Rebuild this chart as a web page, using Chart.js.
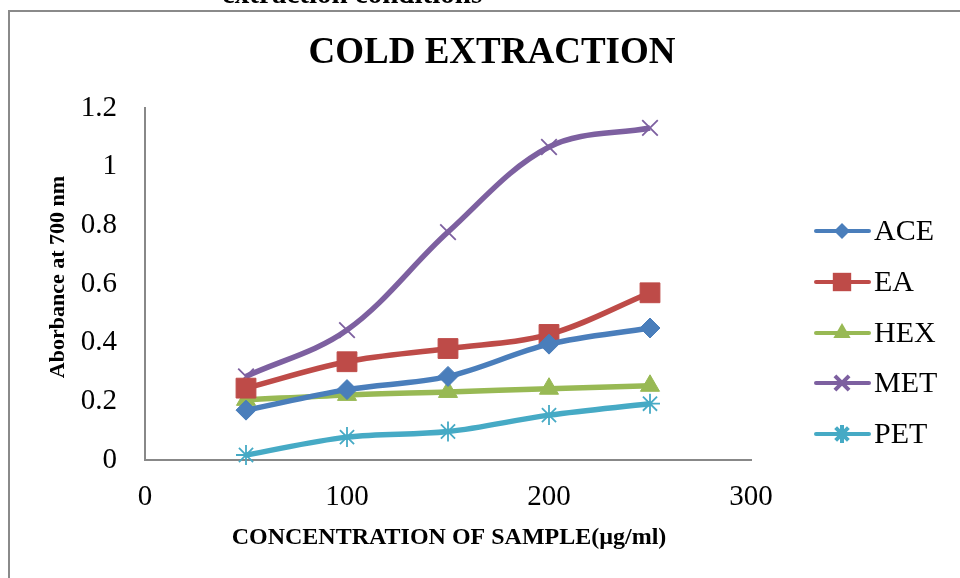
<!DOCTYPE html>
<html>
<head>
<meta charset="utf-8">
<script src="https://cdn.jsdelivr.net/npm/chart.js@4.4.1/dist/chart.umd.min.js"></script>
<style>
  html, body { margin: 0; padding: 0; background: #fff; }
  #wrap { width: 960px; height: 578px; }
</style>
</head>
<body>
<div id="wrap"><canvas id="coldChart" width="960" height="578"></canvas></div>
<script>
// data
const concentrations = [50, 100, 150, 200, 250];
const seriesNames = ['ACE', 'EA', 'HEX', 'MET', 'PET'];
const aceValues = [0.17, 0.24, 0.285, 0.395, 0.45];
const eaValues = [0.245, 0.335, 0.38, 0.428, 0.57];
const hexValues = [0.205, 0.222, 0.232, 0.243, 0.253];
const metValues = [0.285, 0.443, 0.777, 1.067, 1.132];
const petValues = [0.017, 0.078, 0.097, 0.153, 0.192];
const xTicks = [0, 100, 200, 300];
const yTicks = [0, 0.2, 0.4, 0.6, 0.8, 1, 1.2];

const serif = '"Liberation Serif", "Times New Roman", serif';

const styles = [
    { color: '#4A7EBB', point: 'rectRot', radius: 10, legendRadius: 8 },
    { color: '#BE4B48', point: 'rect', radius: 14, legendRadius: 13 },
    { color: '#98B954', point: 'triangle', radius: 11, legendRadius: 10 },
    { color: '#7D60A0', point: 'crossRot', radius: 11, legendRadius: 10 },
    { color: '#46AAC5', point: 'star', radius: 10, legendRadius: 9 }
];
const allValues = [aceValues, eaValues, hexValues, metValues, petValues];

function toPoints(values) {
    return concentrations.map((x, i) => ({ x: x, y: values[i] }));
}

function isOpenMarker(style) {
    return style === 'crossRot' || style === 'star';
}

const datasets = seriesNames.map((name, i) => ({
    label: name,
    data: toPoints(allValues[i]),
    showLine: true,
    tension: 0.35,
    borderColor: styles[i].color,
    backgroundColor: styles[i].color,
    borderWidth: 5.5,
    pointStyle: styles[i].point,
    pointRadius: styles[i].radius,
    pointHoverRadius: styles[i].radius,
    pointBorderWidth: isOpenMarker(styles[i].point) ? 1.8 : 1,
    clip: false
}));

// title, axis titles, border and legend drawn on top
const decorPlugin = {
    id: 'decor',
    beforeDraw(chart) {
        const ctx = chart.ctx;
        ctx.save();
        ctx.fillStyle = '#fff';
        ctx.fillRect(0, 0, chart.width, chart.height);
        ctx.restore();
    },
    afterDraw(chart) {
        const ctx = chart.ctx;
        ctx.save();

        // frame
        ctx.strokeStyle = '#8a8a8a';
        ctx.lineWidth = 2;
        ctx.beginPath();
        ctx.moveTo(9, 578);
        ctx.lineTo(9, 11);
        ctx.lineTo(960, 11);
        ctx.stroke();

        // cut-off caption above the chart
        ctx.fillStyle = '#000';
        ctx.textAlign = 'left';
        ctx.textBaseline = 'alphabetic';
        ctx.font = 'bold 29px ' + serif;
        ctx.fillText('extraction conditions', 222, 3);

        // chart title
        ctx.textAlign = 'center';
        ctx.textBaseline = 'middle';
        ctx.font = 'bold 37px ' + serif;
        ctx.fillText('COLD EXTRACTION', 492, 53);

        // x axis title
        ctx.font = 'bold 24px ' + serif;
        ctx.fillText('CONCENTRATION OF SAMPLE(\u00b5g/ml)', 449, 538, 438);

        // y axis title
        ctx.save();
        ctx.translate(58, 277);
        ctx.rotate(-Math.PI / 2);
        ctx.font = 'bold 22px ' + serif;
        ctx.fillText('Aborbance at 700 nm', 0, 0, 210);
        ctx.restore();

        // legend
        const legendY = [231, 282, 333, 383, 434];
        seriesNames.forEach((name, i) => {
            const y = legendY[i];
            ctx.strokeStyle = styles[i].color;
            ctx.lineWidth = 4;
            ctx.lineCap = 'round';
            ctx.beginPath();
            ctx.moveTo(816, y);
            ctx.lineTo(869, y);
            ctx.stroke();
            ctx.fillStyle = styles[i].color;
            ctx.lineCap = 'butt';
            Chart.helpers.drawPoint(ctx, {
                pointStyle: styles[i].point,
                radius: styles[i].legendRadius,
                rotation: 0,
                borderWidth: isOpenMarker(styles[i].point) ? 1.3 : 0
            }, 842, y);
            ctx.fillStyle = '#000';
            ctx.textAlign = 'left';
            ctx.textBaseline = 'middle';
            ctx.font = '30px ' + serif;
            ctx.fillText(name, 874, y + 1);
        });

        ctx.restore();
    }
};

const ctx = document.getElementById('coldChart').getContext('2d');
const coldChart = new Chart(ctx, {
    type: 'scatter',
    data: { datasets: datasets },
    options: {
        responsive: false,
        animation: false,
        events: [],
        layout: { padding: { left: 0, right: 209, top: 108, bottom: 0 } },
        plugins: {
            legend: { display: false },
            title: { display: false },
            tooltip: { enabled: false }
        },
        scales: {
            x: {
                type: 'linear',
                min: 0,
                max: 300,
                afterBuildTicks: scale => { scale.ticks = xTicks.map(v => ({ value: v })); },
                afterFit: scale => { scale.height = 118; },
                grid: { display: false, drawTicks: false },
                border: { display: true, color: '#888', width: 2 },
                ticks: {
                    color: '#000',
                    padding: 20,
                    font: { family: serif, size: 29 }
                }
            },
            y: {
                type: 'linear',
                min: 0,
                max: 1.2,
                afterBuildTicks: scale => { scale.ticks = yTicks.map(v => ({ value: v })); },
                afterFit: scale => { scale.width = 145; },
                grid: { display: false, drawTicks: false },
                border: { display: true, color: '#888', width: 2 },
                ticks: {
                    color: '#000',
                    padding: 28,
                    font: { family: serif, size: 29 },
                    callback: v => String(Math.round(v * 10) / 10)
                }
            }
        }
    },
    plugins: [decorPlugin]
});
</script>
</body>
</html>
